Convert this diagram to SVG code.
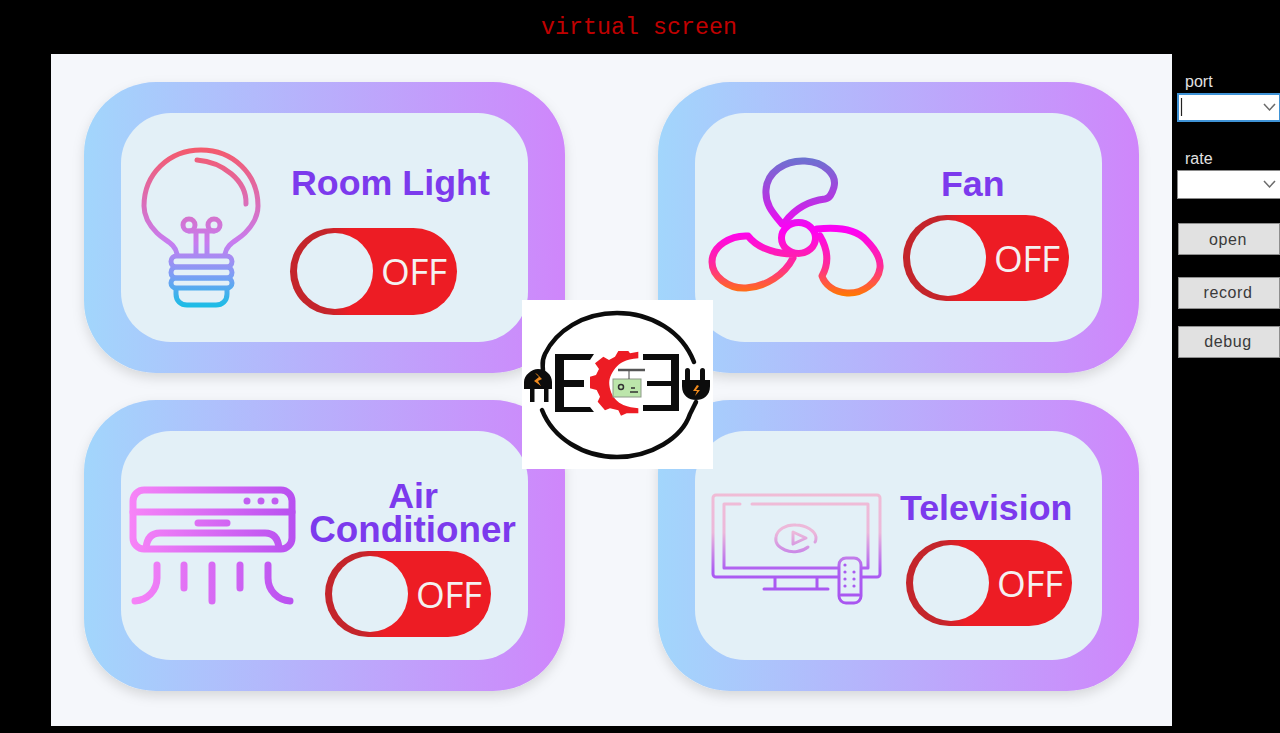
<svg xmlns="http://www.w3.org/2000/svg" width="1280" height="733" viewBox="0 0 1280 733">
<style>
.card{fill:url(#cardGrad);filter:url(#shadow)}
.inner{fill:#e3f0f7}
.title{font-family:"Liberation Sans",Arimo,sans-serif;font-weight:700;font-size:35.8px;fill:#7c3aed}
.tbody{fill:url(#toggleGrad)}
.knob{fill:#e3f0f7}
.off{font-family:"Open Sans","Liberation Sans",sans-serif;font-size:37px;fill:#f4f1f1}
.ui{font-family:"Liberation Sans",sans-serif;font-size:16px}
.lab{fill:#e2e2e2}
.btn{fill:#e1e1e1;stroke:#8f8f8f;stroke-width:1}
.btxt{fill:#3a3a3a;text-anchor:middle;letter-spacing:.6px}
.chev{fill:none;stroke:#6b6b6b;stroke-width:1.5}
.ln{fill:none;stroke-linecap:round;stroke-linejoin:round}
.cord{fill:none;stroke:#0c0c0c;stroke-width:4.5;stroke-linecap:round}
.ink{fill:#0c0c0c}
.bolt{fill:#f08a1d}
</style>
<defs>
<linearGradient id="cardGrad" x1="0" x2="1" y1="0" y2="0"><stop offset="0" stop-color="#a2d6fc"/><stop offset="1" stop-color="#cf86fb"/></linearGradient>
<linearGradient id="toggleGrad" x1="0" x2="1" y1="0" y2="0"><stop offset="0" stop-color="#c4252b"/><stop offset=".22" stop-color="#c4252b"/><stop offset=".36" stop-color="#ed1c24"/><stop offset="1" stop-color="#ed1c24"/></linearGradient>
<linearGradient id="bulbGrad" gradientUnits="userSpaceOnUse" x1="0" x2="0" y1="148" y2="306"><stop offset="0" stop-color="#f45a6c"/><stop offset=".6" stop-color="#c87cf0"/><stop offset=".8" stop-color="#7f9df5"/><stop offset="1" stop-color="#1cbce6"/></linearGradient>
<linearGradient id="fanGrad" gradientUnits="userSpaceOnUse" x1="0" x2="0" y1="158" y2="296"><stop offset="0" stop-color="#6c72d0"/><stop offset=".3" stop-color="#b436e2"/><stop offset=".52" stop-color="#ff00f5"/><stop offset=".78" stop-color="#ff2a98"/><stop offset="1" stop-color="#ff7a00"/></linearGradient>
<linearGradient id="acGrad" gradientUnits="userSpaceOnUse" x1="130" x2="295" y1="0" y2="0"><stop offset="0" stop-color="#f784f7"/><stop offset="1" stop-color="#b850f0"/></linearGradient>
<linearGradient id="tvGrad" gradientUnits="userSpaceOnUse" x1="0" x2="0" y1="494" y2="604"><stop offset="0" stop-color="#f0bcd6"/><stop offset=".35" stop-color="#ecb8da"/><stop offset=".7" stop-color="#ac5cf2"/><stop offset="1" stop-color="#a855f0"/></linearGradient>
<filter id="shadow" x="-10%" y="-10%" width="120%" height="125%"><feDropShadow dx="0" dy="5" stdDeviation="6" flood-color="#000" flood-opacity=".13"/></filter>
</defs>
<rect width="1280" height="733" fill="#000"/>
<text x="541" y="34" font-family="'Liberation Mono',monospace" font-size="23.3" fill="#c00000" textLength="196">virtual screen</text>
<rect x="51" y="54" width="1121" height="672" fill="#f5f7fb"/>

<g id="room-light">
<rect class="card" x="84" y="82" width="481" height="291" rx="72"/>
<rect class="inner" x="121" y="113" width="407" height="229" rx="50"/>
<g class="ln" stroke="url(#bulbGrad)" stroke-width="5">
<path d="M177 254C175 243 165 241 157 233C148 224 144 216 144 206C144 174 169 150 201 150C233 150 258 174 258 206C258 216 254 224 245 233C237 241 227 243 225 254"/>
<path d="M197 160C222 162 247 180 246 204"/>
<circle cx="189" cy="225" r="6"/><circle cx="214" cy="225" r="6"/>
<path d="M189 231H214M196 231V254M207 231V254"/>
<rect x="171" y="256" width="61" height="11" rx="5.5"/>
<rect x="171" y="267" width="61" height="11" rx="5.500"/>
<rect x="171" y="278" width="61" height="10" rx="5"/>
<path d="M176 289V294C176 301 181 305 187 305H216C222 305 227 301 227 294V289"/>
</g>
<text class="title" x="291" y="195">Room Light</text>
<g transform="translate(290 228)"><rect class="tbody" width="167" height="87" rx="43.5"/><circle class="knob" cx="45" cy="43" r="38"/><text class="off" x="91" y="57" textLength="66">OFF</text></g>
</g>

<g id="fan">
<rect class="card" x="658" y="82" width="481" height="291" rx="72"/>
<rect class="inner" x="695" y="113" width="407" height="229" rx="50"/>
<g class="ln" stroke="url(#fanGrad)" stroke-width="7">
<ellipse cx="798.500" cy="238" rx="17" ry="15.500"/>
<path d="M782 224C772 212 765 204 766 190C767 172 785 160 805 161C825 162 837 175 834 187C832 194 830 198 825 199C808 201 794 210 785 222"/>
<path d="M817 229C836 227 855 228 866 240C876 250 881 259 880 268C878 283 862 294 847 293C834 292 825 285 822 276C830 262 827 248 820 236"/>
<path d="M793 258C785 274 766 287 746 288C728 289 712 276 712 262C712 246 731 235 748 236C756 246 768 251 781 253C786 254 790 254 794 254"/>
</g>
<text class="title" x="941" y="196">Fan</text>
<g transform="translate(903 215)"><rect class="tbody" width="166" height="86" rx="43"/><circle class="knob" cx="45" cy="43" r="38"/><text class="off" x="91" y="57" textLength="66">OFF</text></g>
</g>

<g id="air-conditioner">
<rect class="card" x="84" y="400" width="481" height="291" rx="72"/>
<rect class="inner" x="121" y="431" width="407" height="229" rx="50"/>
<g class="ln" stroke="url(#acGrad)" stroke-width="7">
<rect x="133" y="490" width="159" height="59" rx="11"/>
<path d="M133 512H292"/>
<path d="M198 523H227"/>
<path d="M146 548C147 538 152 533 160 533H265C273 533 278 538 279 548"/>
<path d="M157 565V578C157 591 147 600 135 601"/>
<path d="M184 565V588M212 565V601M240 565V588"/>
<path d="M268 565V578C268 591 278 600 290 601"/>
</g>
<g fill="#c25ef2"><circle cx="247" cy="501" r="3.500"/><circle cx="261" cy="501" r="3.500"/><circle cx="275" cy="501" r="3.500"/></g>
<text class="title" text-anchor="middle"><tspan x="413" y="508">Air</tspan><tspan x="412.500" y="542" font-size="36.800">Conditioner</tspan></text>
<g transform="translate(325 551)"><rect class="tbody" width="166" height="86" rx="43"/><circle class="knob" cx="45" cy="43" r="38"/><text class="off" x="91" y="57" textLength="66">OFF</text></g>
</g>

<g id="television">
<rect class="card" x="658" y="400" width="481" height="291" rx="72"/>
<rect class="inner" x="695" y="431" width="407" height="229" rx="50"/>
<g class="ln" stroke="url(#tvGrad)" stroke-width="3">
<rect x="713" y="495" width="167" height="82" rx="3"/>
<path d="M740 504H724V568H868V504H752"/>
<path d="M775 578V588M817 578V588M764 589H828"/>
<path d="M808 547C802 552 792 553 785 550C778 547 775 542 776 537C777 530 786 524 796 525C806 525 815 531 816 537C816 539 816 541 815 542"/>
<path d="M793 532L806 538L793 544Z"/>
<rect x="839" y="558" width="22" height="45" rx="7" fill="#e3f0f7"/>
<path d="M841 595H859"/>
</g>
<g fill="#a95cf0"><circle cx="845" cy="565" r="1.600"/><circle cx="845" cy="572" r="1.600"/><circle cx="854" cy="572" r="1.600"/><circle cx="845" cy="579" r="1.600"/><circle cx="854" cy="579" r="1.600"/><circle cx="845" cy="586" r="1.600"/><circle cx="854" cy="586" r="1.600"/></g>
<text class="title" x="900" y="520">Television</text>
<g transform="translate(906 540)"><rect class="tbody" width="166" height="86" rx="43"/><circle class="knob" cx="45" cy="43" r="38"/><text class="off" x="91" y="57" textLength="66">OFF</text></g>
</g>

<g id="logo">
<rect x="522" y="300" width="191" height="169" fill="#fff"/>
<path class="cord" d="M543 372C543 364 541 362 545 354C556 331 583 313 617 313C651 313 682 331 694 362"/>
<path class="cord" d="M542 410C553 438 583 457 617 457C651 457 682 438 690 414L696 402"/>
<path class="ink" d="M555 354H594L590 360H564V380H584V387H564V407H590L594 412H555Z"/>
<path class="ink" d="M643 354H679V411H643V405H671V386H647V381H671V360H643Z"/>
<path fill="#ed1c24" transform="translate(585 345) scale(.3333)" d="M160 20V40C140 42 125 45 115 50C95 60 85 75 76 95C70 110 72 128 82 150C92 168 105 175 115 180C130 186 145 188 160 190V205H125L108 212L100 196L75 190L60 196L38 170L45 155L35 135L15 130V95L33 90L42 72L30 55L55 35L72 45L90 35L100 18H130L135 25Z"/>
<rect x="613" y="379" width="28" height="18" fill="#bce6ab" stroke="#8d9a88" stroke-width="1"/>
<path d="M618 370H645" stroke="#555" stroke-width="2.500"/>
<path d="M629 371V379" stroke="#444" stroke-width="1"/>
<circle cx="621" cy="387" r="2.500" fill="none" stroke="#333" stroke-width="1.500"/>
<path d="M630 392H638M631 388H635" stroke="#333" stroke-width="1.500"/>
<g id="plug-left">
<path class="ink" d="M524 392V382C524 375 532 369 538 369C546 369 552 375 552 382V389H524Z"/>
<rect class="ink" x="530" y="388" width="4.500" height="14"/><rect class="ink" x="544" y="388" width="4.500" height="14"/>
<path class="bolt" d="M535 373L539 377L534 381L541 386L538 381L542 379L537 374Z"/>
</g>
<g id="plug-right">
<rect class="ink" x="685" y="368" width="5" height="17" rx="2.500"/><rect class="ink" x="700" y="368" width="5" height="17" rx="2.500"/>
<path class="ink" d="M682 380H710V386C710 396 703 400 696 400C689 400 682 396 682 386Z"/>
<path class="bolt" d="M697 385L693 391H697L695 396L700 390H696L699 386Z"/>
</g>
</g>

<g id="controls">
<text class="ui lab" x="1185" y="87">port</text>
<rect x="1178" y="94" width="102" height="27" fill="#fff" stroke="#3f93d6" stroke-width="2"/>
<path d="M1181.500 98V116" stroke="#222" stroke-width="1.200"/>
<path class="chev" d="M1264 104L1269.500 110L1275 104"/>
<text class="ui lab" x="1185" y="164">rate</text>
<rect x="1177.500" y="170.500" width="103" height="28" fill="#fff" stroke="#8a8a8a"/>
<path class="chev" d="M1264 181L1269.500 187L1275 181"/>
<rect class="btn" x="1178.500" y="223.500" width="101" height="31"/>
<text class="ui btxt" x="1228" y="245">open</text>
<rect class="btn" x="1178.500" y="277.500" width="101" height="31"/>
<text class="ui btxt" x="1228" y="298">record</text>
<rect class="btn" x="1178.500" y="326.500" width="101" height="31"/>
<text class="ui btxt" x="1228" y="347">debug</text>
</g>
</svg>
